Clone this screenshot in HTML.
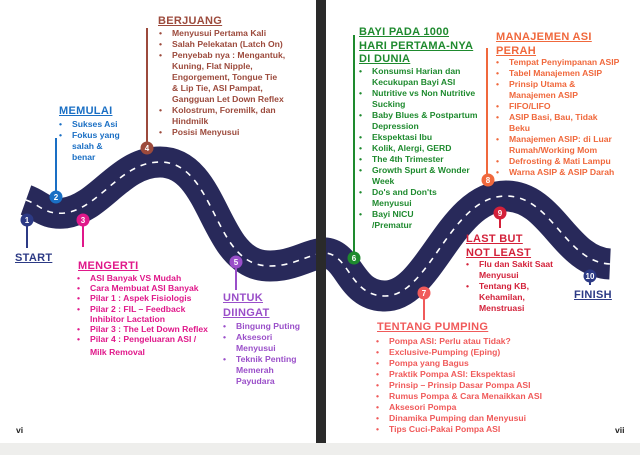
<!DOCTYPE html>
<html><head><meta charset="utf-8"><style>
body{margin:0;width:640px;height:455px;overflow:hidden;background:#fff;position:relative;font-family:"Liberation Sans",sans-serif;font-weight:bold;}
.t{position:absolute;font-size:8.6px;line-height:11px;white-space:nowrap}
.t ul{margin:0;padding:0;list-style:none}
.t li{padding-left:17px;position:relative}
.t li:before{content:"•";position:absolute;left:4px}
.h{position:absolute;font-size:11px;letter-spacing:0.3px;text-decoration:underline;line-height:13.5px;font-weight:bold;white-space:nowrap}
</style></head><body>
<svg width="640" height="455" style="position:absolute;left:0;top:0">
<rect x="0" y="443" width="640" height="12" fill="#eeeeec"/>
<g fill="none" stroke="#28295a" stroke-width="31">
<path d="M26,200 C40,205 45,215 65,213 C100,208 120,162 160,162 C200,162 210,215 232,245 C247,265 262,268 282,265 C300,262 310,254 326,253 C350,256 350,296 385,296 C430,296 450,196 506,196 C552,196 565,262 610,264"/>
</g>
<g fill="none" stroke="#fff" stroke-width="1.6" stroke-dasharray="6,6">
<path d="M26,200 C40,205 45,215 65,213 C100,208 120,162 160,162 C200,162 210,215 232,245 C247,265 262,268 282,265 C300,262 310,254 326,253 C350,256 350,296 385,296 C430,296 450,196 506,196 C552,196 565,262 610,264"/>
</g>
<rect x="316" y="0" width="10" height="443" fill="#2a2a2a"/>
<g stroke-width="2">
<line x1="27" y1="220" x2="27" y2="248" stroke="#2c3a85"/>
<line x1="56" y1="197" x2="56" y2="138" stroke="#1a6fc4"/>
<line x1="83" y1="220" x2="83" y2="247" stroke="#e0188a"/>
<line x1="147" y1="148" x2="147" y2="28" stroke="#9c4a3c"/>
<line x1="236" y1="262" x2="236" y2="290" stroke="#9a4fc9"/>
<line x1="354" y1="258" x2="354" y2="35" stroke="#1e8a2e"/>
<line x1="424" y1="293" x2="424" y2="320" stroke="#f05a5a"/>
<line x1="487" y1="180" x2="487" y2="48" stroke="#f0683c"/>
<line x1="500" y1="212" x2="500" y2="228" stroke="#d3213a"/>
<line x1="590" y1="276" x2="590" y2="285" stroke="#2c3a85"/>
</g>
<g font-family="Liberation Sans" font-weight="bold" font-size="8" fill="#fff" text-anchor="middle">
<circle cx="27" cy="220" r="6.5" fill="#2c3a85"/><text x="27" y="223">1</text>
<circle cx="56" cy="197" r="6.5" fill="#1a6fc4"/><text x="56" y="200">2</text>
<circle cx="83" cy="220" r="6.5" fill="#e0188a"/><text x="83" y="223">3</text>
<circle cx="147" cy="148" r="6.5" fill="#9c4a3c"/><text x="147" y="151">4</text>
<circle cx="236" cy="262" r="6.5" fill="#9a4fc9"/><text x="236" y="265">5</text>
<circle cx="354" cy="258" r="6.5" fill="#1e8a2e"/><text x="354" y="261">6</text>
<circle cx="424" cy="293" r="6.5" fill="#f05a5a"/><text x="424" y="296">7</text>
<circle cx="488" cy="180" r="6.5" fill="#f0683c"/><text x="488" y="183">8</text>
<circle cx="500" cy="213" r="6.5" fill="#d3213a"/><text x="500" y="216">9</text>
<circle cx="590" cy="276" r="6.5" fill="#2c3a85"/><text x="590" y="279">10</text>
</g>
</svg>

<div class="h" style="left:15px;top:252px;color:#2c3a85">START</div>
<div class="h" style="left:59px;top:105px;color:#1a6fc4">MEMULAI</div>
<div class="t" style="left:55px;top:119px;color:#1a6fc4"><ul><li>Sukses Asi</li><li>Fokus yang<br>salah &amp;<br>benar</li></ul></div>

<div class="h" style="left:158px;top:15px;color:#9c4a3c">BERJUANG</div>
<div class="t" style="left:155px;top:28px;color:#9c4a3c"><ul><li>Menyusui Pertama Kali</li><li>Salah Pelekatan (Latch On)</li><li>Penyebab nya : Mengantuk,<br>Kuning, Flat Nipple,<br>Engorgement, Tongue Tie<br>&amp; Lip Tie, ASI Pampat,<br>Gangguan Let Down Reflex</li><li>Kolostrum, Foremilk, dan<br>Hindmilk</li><li>Posisi Menyusui</li></ul></div>

<div class="h" style="left:78px;top:260px;color:#e0188a">MENGERTI</div>
<div class="t" style="left:73px;top:273px;color:#e0188a;line-height:10.2px"><ul><li>ASI Banyak VS Mudah</li><li>Cara Membuat ASI Banyak</li><li>Pilar 1 : Aspek Fisiologis</li><li>Pilar 2 : FIL – Feedback<br>Inhibitor Lactation</li><li>Pilar 3 : The Let Down Reflex</li><li>Pilar 4 : Pengeluaran ASI /<br><span style="line-height:16px">Milk Removal</span></li></ul></div>

<div class="h" style="left:223px;top:291px;color:#9a4fc9;line-height:15px">UNTUK<br>DIINGAT</div>
<div class="t" style="left:219px;top:321px;color:#9a4fc9"><ul><li>Bingung Puting</li><li>Aksesori<br>Menyusui</li><li>Teknik Penting<br>Memerah<br>Payudara</li></ul></div>

<div class="h" style="left:359px;top:26px;color:#1e8a2e">BAYI PADA 1000<br>HARI PERTAMA-NYA<br>DI DUNIA</div>
<div class="t" style="left:355px;top:66px;color:#1e8a2e"><ul><li>Konsumsi Harian dan<br>Kecukupan Bayi ASI</li><li>Nutritive vs Non Nutritive<br>Sucking</li><li>Baby Blues &amp; Postpartum<br>Depression</li><li>Ekspektasi Ibu</li><li>Kolik, Alergi, GERD</li><li>The 4th Trimester</li><li>Growth Spurt &amp; Wonder<br>Week</li><li>Do's and Don'ts<br>Menyusui</li><li>Bayi NICU<br>/Prematur</li></ul></div>

<div class="h" style="left:496px;top:30px;color:#f0683c;line-height:14px">MANAJEMEN ASI<br>PERAH</div>
<div class="t" style="left:492px;top:57px;color:#f0683c"><ul><li>Tempat Penyimpanan ASIP</li><li>Tabel Manajemen ASIP</li><li>Prinsip Utama &amp;<br>Manajemen ASIP</li><li>FIFO/LIFO</li><li>ASIP Basi, Bau, Tidak<br>Beku</li><li>Manajemen ASIP: di Luar<br>Rumah/Working Mom</li><li>Defrosting &amp; Mati Lampu</li><li>Warna ASIP &amp; ASIP Darah</li></ul></div>

<div class="h" style="left:466px;top:232px;color:#d3213a;line-height:14px">LAST BUT<br>NOT LEAST</div>
<div class="t" style="left:462px;top:259px;color:#d3213a"><ul><li>Flu dan Sakit Saat<br>Menyusui</li><li>Tentang KB,<br>Kehamilan,<br>Menstruasi</li></ul></div>

<div class="h" style="left:574px;top:289px;color:#2c3a85">FINISH</div>

<div class="h" style="left:377px;top:321px;color:#f05a5a">TENTANG PUMPING</div>
<div class="t" style="left:372px;top:336px;color:#f05a5a"><ul><li>Pompa ASI: Perlu atau Tidak?</li><li>Exclusive-Pumping (Eping)</li><li>Pompa yang Bagus</li><li>Praktik Pompa ASI: Ekspektasi</li><li>Prinsip – Prinsip Dasar Pompa ASI</li><li>Rumus Pompa &amp; Cara Menaikkan ASI</li><li>Aksesori Pompa</li><li>Dinamika Pumping dan Menyusui</li><li>Tips Cuci-Pakai Pompa ASI</li></ul></div>

<div class="t" style="left:16px;top:425px;color:#222">vi</div>
<div class="t" style="left:615px;top:425px;color:#222">vii</div>
</body></html>
